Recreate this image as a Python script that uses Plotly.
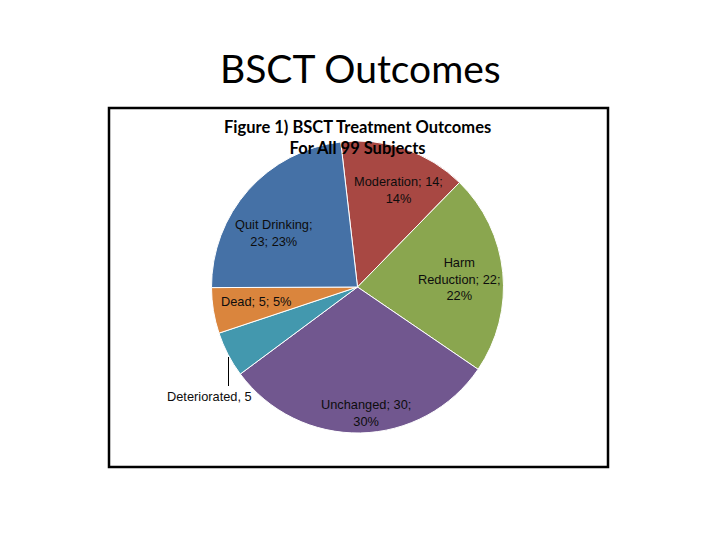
import plotly.graph_objects as go

# ---- data ----
categories = ["Moderation", "Harm Reduction", "Unchanged", "Deteriorated", "Dead", "Quit Drinking"]
counts = [14, 22, 30, 5, 5, 23]
percents = [14, 22, 30, 5, 5, 23]
colors = ["#A84843", "#8AA64F", "#71578F", "#4398AE", "#DA853D", "#4571A6"]

W, H = 720, 540
OFF = 8  # page body margin


def px(x):
    return (x - OFF) / W


def py(y):
    return 1 - (y - OFF) / H


cx, cy, R = 357.5, 287.0, 146.0

fig = go.Figure()
fig.add_trace(go.Pie(
    labels=categories,
    values=counts,
    sort=False,
    direction="clockwise",
    rotation=-6.6,
    marker=dict(colors=colors, line=dict(color="white", width=1)),
    textinfo="none",
    hoverinfo="label+value+percent",
    showlegend=False,
    domain=dict(x=[px(cx - R), px(cx + R)], y=[py(cy + R), py(cy - R)]),
))

label_texts = [
    f"{categories[0]}; {counts[0]};<br>{percents[0]}%",
    f"Harm<br>Reduction; {counts[1]};<br>{percents[1]}%",
    f"{categories[2]}; {counts[2]};<br>{percents[2]}%",
    f"{categories[3]}, {counts[3]}",
    f"{categories[4]}; {counts[4]}; {percents[4]}%",
    f"{categories[5]};<br>{counts[5]}; {percents[5]}%",
]
label_pos = [(398.7, 189.5), (459, 279), (366, 413), (209.5, 396), (256, 301), (274, 233)]

annotations = []
for t, (x, y) in zip(label_texts, label_pos):
    annotations.append(dict(
        x=px(x), y=py(y), xref="paper", yref="paper", text=t, showarrow=False,
        font=dict(family="Liberation Sans, Arial", size=12.8, color="#0d0d0d"),
        align="center", xanchor="center", yanchor="middle",
    ))

# chart title inside box
annotations.append(dict(
    x=px(357), y=py(137), xref="paper", yref="paper",
    text="<b>Figure 1) BSCT Treatment Outcomes<br>For All 99 Subjects</b>",
    showarrow=False, align="center", xanchor="center", yanchor="middle",
    font=dict(family="Lato, Liberation Sans", size=16.5, color="black"),
))
# slide title
annotations.append(dict(
    x=px(360), y=py(68), xref="paper", yref="paper", text="BSCT Outcomes",
    showarrow=False, xanchor="center", yanchor="middle",
    font=dict(family="Lato, Liberation Sans", size=39, color="black"),
))

shapes = [
    dict(type="rect", xref="paper", yref="paper",
         x0=px(109), x1=px(608), y0=py(467), y1=py(108),
         line=dict(color="black", width=2.5), fillcolor="rgba(0,0,0,0)", layer="below"),
    dict(type="line", xref="paper", yref="paper",
         x0=px(228.5), x1=px(228.5), y0=py(357), y1=py(386),
         line=dict(color="black", width=1)),
]

fig.update_layout(
    width=W, height=H,
    margin=dict(l=0, r=0, t=0, b=0),
    paper_bgcolor="white", plot_bgcolor="white",
    annotations=annotations, shapes=shapes,
)

fig.write_html("out.html")
